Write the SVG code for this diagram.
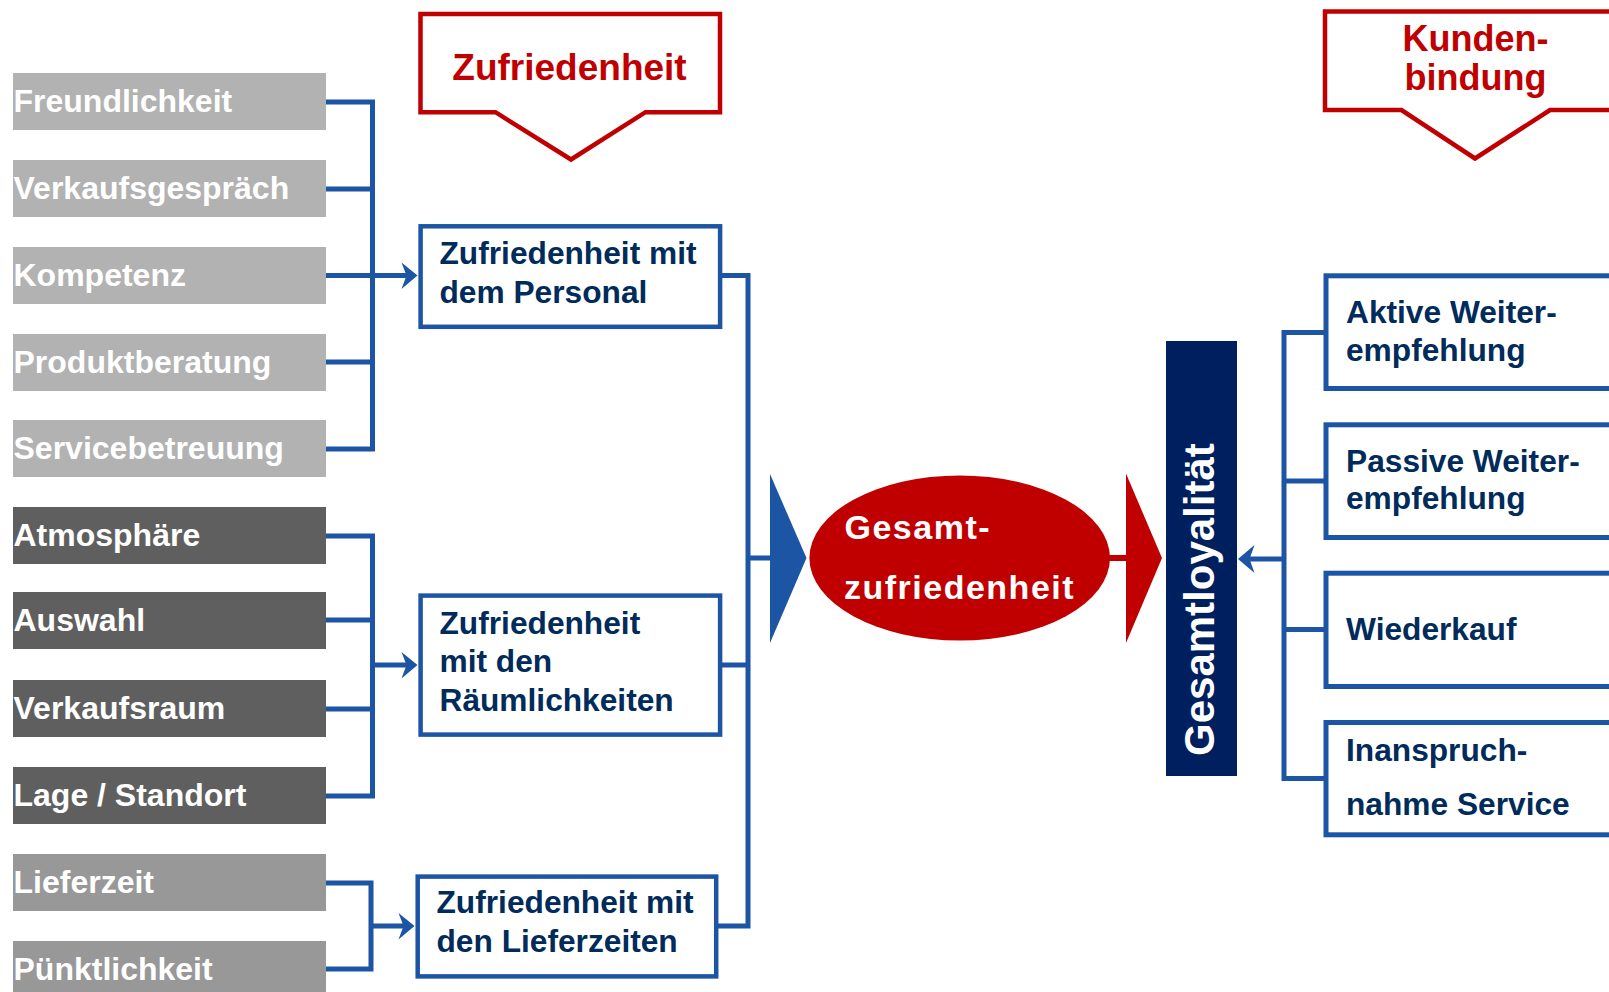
<svg xmlns="http://www.w3.org/2000/svg" width="1609" height="992" viewBox="0 0 1609 992">
<style>
  .lbl { font-family: "Liberation Sans", Arial, sans-serif; font-weight: bold; font-size: 32px; fill: #ffffff; }
  .mid { font-family: "Liberation Sans", Arial, sans-serif; font-weight: bold; font-size: 31.7px; fill: #002B5A; }
  .red { font-family: "Liberation Sans", Arial, sans-serif; font-weight: bold; font-size: 37px; fill: #C00000; }
  .wht { font-family: "Liberation Sans", Arial, sans-serif; font-weight: bold; fill: #ffffff; }
  .light { fill: #B2B2B2; }
  .dark { fill: #5F5F5F; }
  .midg { fill: #989898; }
  .bbox { fill: #ffffff; stroke: #1C55A4; stroke-width: 4.5; }
  .rbox { fill: #ffffff; stroke: #1C55A4; stroke-width: 5; }
  .call { fill: #ffffff; stroke: #C00000; stroke-width: 4.5; }
  .con { fill: none; stroke: #1C55A4; stroke-width: 5; stroke-linejoin: miter; }
  .head { fill: #1C55A4; }
</style>
<rect width="1609" height="992" fill="#ffffff"/>

<!-- callouts -->
<g id="callout-zufriedenheit">
  <path class="call" d="M420.5,14 H720 V112.2 H645.5 L571,159.5 L495.5,112.2 H420.5 Z"/>
  <text class="red" x="569.5" y="80" text-anchor="middle">Zufriedenheit</text>
</g>
<g id="callout-kundenbindung">
  <path class="call" d="M1325,11.5 H1620 V110 H1550 L1475,158.5 L1401.5,110 H1325 Z"/>
  <text class="red" x="1475.5" y="50.7" text-anchor="middle" style="font-size:36px">Kunden-</text>
  <text class="red" x="1475.5" y="90" text-anchor="middle" style="font-size:36px">bindung</text>
</g>

<!-- left factor boxes -->
<g id="n-freundlichkeit"><rect class="light" x="13" y="73" width="313" height="57"/><text class="lbl" x="13.5" y="112">Freundlichkeit</text></g>
<g id="n-verkaufsgespraech"><rect class="light" x="13" y="160" width="313" height="57"/><text class="lbl" x="13.5" y="199">Verkaufsgespräch</text></g>
<g id="n-kompetenz"><rect class="light" x="13" y="247" width="313" height="57"/><text class="lbl" x="13.5" y="286">Kompetenz</text></g>
<g id="n-produktberatung"><rect class="light" x="13" y="334" width="313" height="57"/><text class="lbl" x="13.5" y="373">Produktberatung</text></g>
<g id="n-servicebetreuung"><rect class="light" x="13" y="420" width="313" height="57"/><text class="lbl" x="13.5" y="459">Servicebetreuung</text></g>
<g id="n-atmosphaere"><rect class="dark" x="13" y="507" width="313" height="57"/><text class="lbl" x="13.5" y="546">Atmosphäre</text></g>
<g id="n-auswahl"><rect class="dark" x="13" y="592" width="313" height="57"/><text class="lbl" x="13.5" y="631">Auswahl</text></g>
<g id="n-verkaufsraum"><rect class="dark" x="13" y="680" width="313" height="57"/><text class="lbl" x="13.5" y="719">Verkaufsraum</text></g>
<g id="n-lage"><rect class="dark" x="13" y="767" width="313" height="57"/><text class="lbl" x="13.5" y="806">Lage / Standort</text></g>
<g id="n-lieferzeit"><rect class="midg" x="13" y="854" width="313" height="57"/><text class="lbl" x="13.5" y="893">Lieferzeit</text></g>
<g id="n-puenktlichkeit"><rect class="midg" x="13" y="941" width="313" height="57"/><text class="lbl" x="13.5" y="980">Pünktlichkeit</text></g>

<!-- middle boxes -->
<g id="n-personal">
  <rect class="bbox" x="420.6" y="226.3" width="299.5" height="100.5"/>
  <text class="mid" x="439.5" y="263.5">Zufriedenheit mit</text>
  <text class="mid" x="439.5" y="302.5">dem Personal</text>
</g>
<g id="n-raeumlichkeiten">
  <rect class="bbox" x="420.6" y="595.6" width="299.5" height="139"/>
  <text class="mid" x="439.5" y="633.5">Zufriedenheit</text>
  <text class="mid" x="439.5" y="672">mit den</text>
  <text class="mid" x="439.5" y="710.5">Räumlichkeiten</text>
</g>
<g id="n-lieferzeiten">
  <rect class="bbox" x="417.7" y="876.6" width="298.5" height="99.8"/>
  <text class="mid" x="436.5" y="912.5">Zufriedenheit mit</text>
  <text class="mid" x="436.5" y="951.5">den Lieferzeiten</text>
</g>

<!-- central -->
<g id="n-gesamtzufriedenheit">
  <ellipse cx="959.7" cy="558" rx="150.3" ry="82.5" fill="#C00000"/>
  <text class="wht" x="844.5" y="539" style="font-size:34px;letter-spacing:1.5px">Gesamt-</text>
  <text class="wht" x="844" y="599" style="font-size:34px;letter-spacing:1.5px">zufriedenheit</text>
</g>
<g id="n-gesamtloyalitaet">
  <rect x="1166" y="341" width="71" height="435" fill="#001F5E"/>
  <text class="wht" x="1214" y="756" transform="rotate(-90 1214 756)" style="font-size:42px">Gesamtloyalität</text>
</g>

<!-- right boxes -->
<g id="n-aktiv">
  <rect class="rbox" x="1326" y="275.8" width="300" height="112.7"/>
  <text class="mid" x="1346" y="322.7">Aktive Weiter-</text>
  <text class="mid" x="1346" y="360.5">empfehlung</text>
</g>
<g id="n-passiv">
  <rect class="rbox" x="1326" y="424.8" width="300" height="112.7"/>
  <text class="mid" x="1346" y="471.7">Passive Weiter-</text>
  <text class="mid" x="1346" y="508.5">empfehlung</text>
</g>
<g id="n-wiederkauf">
  <rect class="rbox" x="1326" y="573.2" width="300" height="113.3"/>
  <text class="mid" x="1346" y="640">Wiederkauf</text>
</g>
<g id="n-inanspruchnahme">
  <rect class="rbox" x="1326" y="722.5" width="300" height="112.3"/>
  <text class="mid" x="1346" y="761">Inanspruch-</text>
  <text class="mid" x="1346" y="815">nahme Service</text>
</g>

<!-- connectors -->
<g id="connectors">
  <path class="con" d="M326,102 H372.5 V449 H326 M326,189 H372.5 M326,275.5 H372.5 M326,362 H372.5 M372.5,275.5 H407"/>
  <polygon class="head" points="417.5,275.5 401.5,262.5 406.5,275.5 401.5,289"/>
  <path class="con" d="M326,536 H372.5 V796 H326 M326,620 H372.5 M326,709 H372.5 M372.5,665 H407"/>
  <polygon class="head" points="417.5,665 401.5,652 406.5,665 401.5,678.5"/>
  <path class="con" d="M326,883 H371 V969 H326 M371,926 H404"/>
  <polygon class="head" points="414.5,926 398.5,913 403.5,926 398.5,939.5"/>
  <path class="con" d="M722,275.5 H748 V926 H718 M722,665 H748 M748,558 H772"/>
  <polygon points="770,474 806.5,558 770,643" fill="#1C55A4"/>
  <path d="M1106,558 H1128" stroke="#C00000" stroke-width="6" fill="none"/>
  <polygon points="1126,473.5 1162,558 1126,643" fill="#C00000"/>
  <path class="con" d="M1326,332.5 H1284 V778.5 H1326 M1284,481 H1326 M1284,629.5 H1326 M1284,559 H1249"/>
  <polygon class="head" points="1238,559 1254.5,545 1249.5,559 1254.5,573"/>
</g>
</svg>
